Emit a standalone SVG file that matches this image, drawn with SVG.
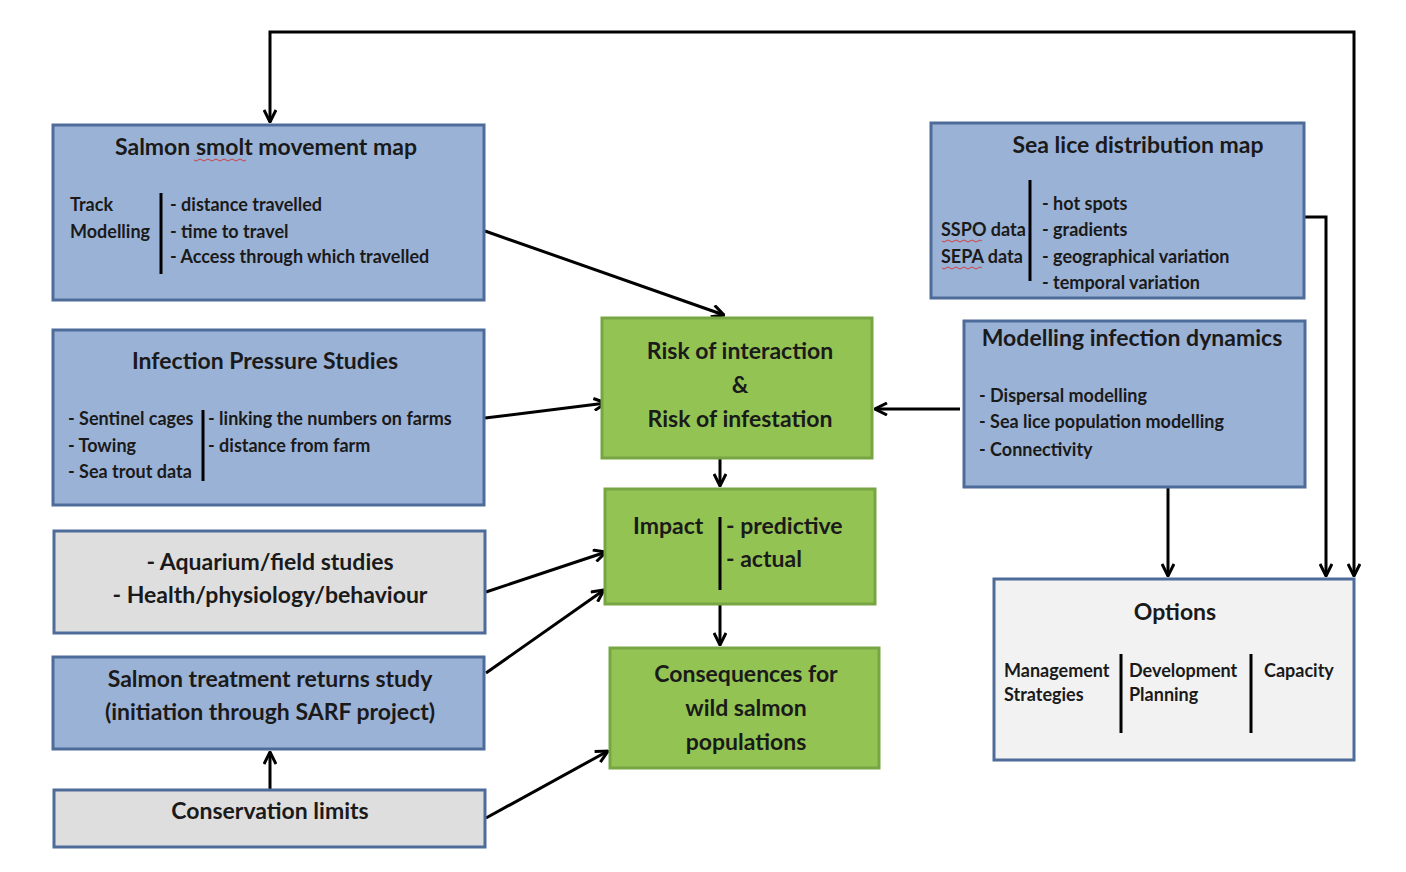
<svg xmlns="http://www.w3.org/2000/svg" width="1406" height="872" viewBox="0 0 1406 872">
<style>
.blue{fill:#9bb2d7;stroke:#4e6c9a;stroke-width:3}
.gray{fill:#dedede;stroke:#4e6c9a;stroke-width:3}
.light{fill:#f2f2f2;stroke:#4e6c9a;stroke-width:3}
.green{fill:#93c453;stroke:#78a544;stroke-width:3}
text{font-family:Lato,"Open Sans","Liberation Sans",sans-serif;font-weight:bold;fill:#1a1a1a}
.t{font-size:23px}
.s{font-size:18px}
.m{font-size:23px}
.c{text-anchor:middle}
.sep{stroke:#000;stroke-width:3}
.con{fill:none;stroke:#000;stroke-width:3}
.sq{fill:none;stroke:#d04040;stroke-width:1}
</style>
<defs>
<marker id="ah" viewBox="0 0 14 14" refX="13" refY="7" markerWidth="14" markerHeight="14" markerUnits="userSpaceOnUse" orient="auto-start-reverse">
<path d="M1,1 L13,7 L1,13" fill="none" stroke="#000" stroke-width="3"/>
</marker>
</defs>
<rect width="1406" height="872" fill="#fff"/>

<g id="connectors">
<polyline class="con" points="270,122 270,32 1354,32 1354,576" marker-start="url(#ah)" marker-end="url(#ah)"/>
<polyline class="con" points="1304,217 1326,217 1326,576" marker-end="url(#ah)"/>
<line class="con" x1="485" y1="231" x2="724" y2="315" marker-end="url(#ah)"/>
<line class="con" x1="485" y1="418" x2="606" y2="403" marker-end="url(#ah)"/>
<line class="con" x1="960" y1="409" x2="875" y2="409" marker-end="url(#ah)"/>
<line class="con" x1="720" y1="459" x2="720" y2="486" marker-end="url(#ah)"/>
<line class="con" x1="486" y1="592" x2="606" y2="552" marker-end="url(#ah)"/>
<line class="con" x1="486" y1="673" x2="604" y2="590" marker-end="url(#ah)"/>
<line class="con" x1="720" y1="605" x2="720" y2="645" marker-end="url(#ah)"/>
<line class="con" x1="486" y1="818" x2="608" y2="751" marker-end="url(#ah)"/>
<line class="con" x1="270" y1="790" x2="270" y2="752" marker-end="url(#ah)"/>
<line class="con" x1="1168" y1="488" x2="1168" y2="576" marker-end="url(#ah)"/>
</g>

<g id="smolt">
<rect class="blue" x="53" y="125" width="431" height="175"/>
<text class="t c" x="266" y="155">Salmon smolt movement map</text>
<path class="sq" d="M194,160 q2,2 4,0 t4,0 t4,0 t4,0 t4,0 t4,0 t4,0 t4,0 t4,0 t4,0 t4,0 t4,0 t4,0"/>
<text class="s" x="70" y="211">Track</text>
<text class="s" x="70" y="238">Modelling</text>
<line class="sep" x1="161" y1="193" x2="161" y2="274"/>
<text class="s" x="170" y="211">- distance  travelled</text>
<text class="s" x="170" y="238">- time to travel</text>
<text class="s" x="170" y="263">- Access  through which travelled</text>
</g>

<g id="infection">
<rect class="blue" x="53" y="330" width="431" height="175"/>
<text class="t c" x="265" y="369">Infection Pressure Studies</text>
<text class="s" x="68" y="425">- Sentinel cages</text>
<text class="s" x="68" y="452">- Towing</text>
<text class="s" x="68" y="478">- Sea trout data</text>
<line class="sep" x1="203" y1="410" x2="203" y2="481"/>
<text class="s" x="208" y="425">- linking  the numbers on  farms</text>
<text class="s" x="208" y="452">- distance  from farm</text>
</g>

<g id="aquarium">
<rect class="gray" x="54" y="531" width="431" height="102"/>
<text class="m c" x="270" y="570">- Aquarium/field studies</text>
<text class="m c" x="270" y="603">- Health/physiology/behaviour</text>
</g>

<g id="treatment">
<rect class="blue" x="53" y="657" width="431" height="92"/>
<text class="m c" x="270" y="687">Salmon treatment returns study</text>
<text class="m c" x="270" y="720">(initiation through SARF project)</text>
</g>

<g id="conservation">
<rect class="gray" x="54" y="790" width="431" height="57"/>
<text class="m c" x="270" y="819">Conservation limits</text>
</g>

<g id="risk">
<rect class="green" x="602" y="318" width="270" height="140"/>
<text class="t c" x="740" y="359">Risk of interaction</text>
<text class="t c" x="740" y="393">&amp;</text>
<text class="t c" x="740" y="427">Risk of infestation</text>
</g>

<g id="impact">
<rect class="green" x="605" y="489" width="270" height="115"/>
<text class="t" x="633" y="534">Impact</text>
<line class="sep" x1="720" y1="517" x2="720" y2="590"/>
<text class="t" x="726" y="534">- predictive</text>
<text class="t" x="726" y="567">- actual</text>
</g>

<g id="consequences">
<rect class="green" x="610" y="648" width="269" height="120"/>
<text class="t c" x="746" y="682">Consequences for</text>
<text class="t c" x="746" y="716">wild salmon</text>
<text class="t c" x="746" y="750">populations</text>
</g>

<g id="sealice">
<rect class="blue" x="931" y="123" width="373" height="175"/>
<text class="t c" x="1138" y="153">Sea lice distribution map</text>
<line class="sep" x1="1030" y1="180" x2="1030" y2="281"/>
<text class="s" x="941" y="236">SSPO data</text>
<text class="s" x="941" y="263">SEPA data</text>
<path class="sq" d="M942,241 q2,2 4,0 t4,0 t4,0 t4,0 t4,0 t4,0 t4,0 t4,0 t4,0 t4,0"/>
<path class="sq" d="M942,268 q2,2 4,0 t4,0 t4,0 t4,0 t4,0 t4,0 t4,0 t4,0 t4,0 t4,0"/>
<text class="s" x="1042" y="210">- hot spots</text>
<text class="s" x="1042" y="236">- gradients</text>
<text class="s" x="1042" y="263">- geographical  variation</text>
<text class="s" x="1042" y="289">- temporal variation</text>
</g>

<g id="modelling">
<rect class="blue" x="964" y="321" width="341" height="166"/>
<text class="t c" x="1132" y="346">Modelling infection dynamics</text>
<text class="s" x="979" y="402">- Dispersal  modelling</text>
<text class="s" x="979" y="428">- Sea lice population modelling</text>
<text class="s" x="979" y="456">- Connectivity</text>
</g>

<g id="options">
<rect class="light" x="994" y="579" width="360" height="181"/>
<text class="t c" x="1175" y="620">Options</text>
<text class="s" x="1004" y="677">Management</text>
<text class="s" x="1004" y="701">Strategies</text>
<line class="sep" x1="1121" y1="654" x2="1121" y2="733"/>
<text class="s" x="1129" y="677">Development</text>
<text class="s" x="1129" y="701">Planning</text>
<line class="sep" x1="1251" y1="654" x2="1251" y2="733"/>
<text class="s" x="1264" y="677">Capacity</text>
</g>
</svg>
